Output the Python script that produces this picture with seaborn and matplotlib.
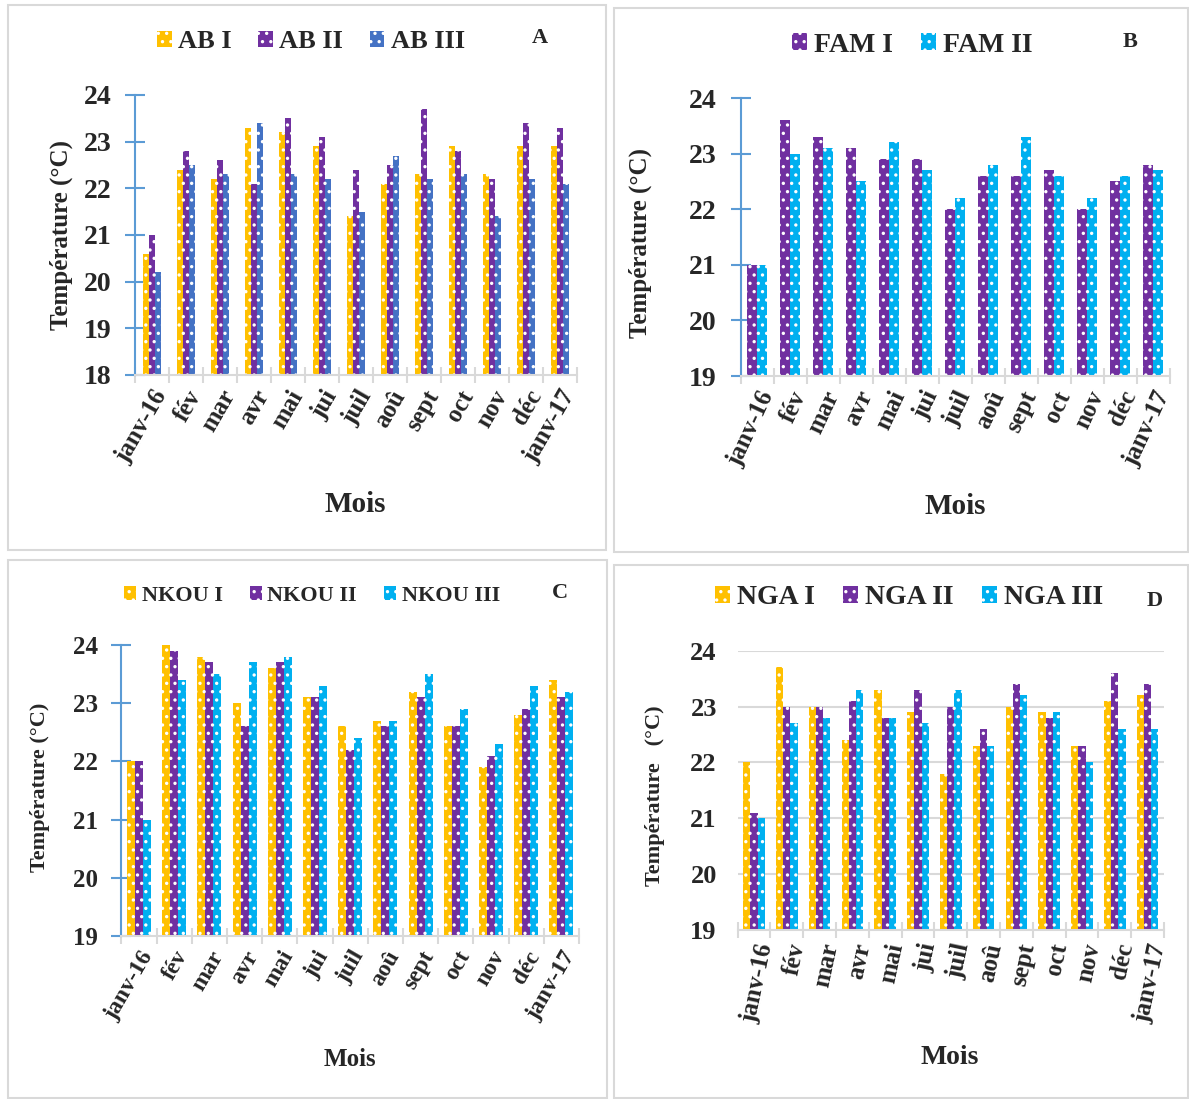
import numpy as np
import pandas as pd
import matplotlib
matplotlib.use("Agg")
import matplotlib.pyplot as plt
from matplotlib.patches import Rectangle, Patch
import seaborn as sns

sns.set_theme(style="white")
plt.rcParams["font.family"] = ["Liberation Serif", "DejaVu Serif"]
plt.rcParams["hatch.color"] = "white"
plt.rcParams["hatch.linewidth"] = 1.2

months = ["janv-16", "fév", "mar", "avr", "mai", "jui", "juil",
          "aoû", "sept", "oct", "nov", "déc", "janv-17"]

# A - AB stations
ab_labels = ["AB I", "AB II", "AB III"]
ab_1 = [20.6, 22.4, 22.2, 23.3, 23.2, 22.9, 21.4, 22.1, 22.3, 22.9, 22.3, 22.9, 22.9]
ab_2 = [21.0, 22.8, 22.6, 22.1, 23.5, 23.1, 22.4, 22.5, 23.7, 22.8, 22.2, 23.4, 23.3]
ab_3 = [20.2, 22.5, 22.3, 23.4, 22.3, 22.2, 21.5, 22.7, 22.2, 22.3, 21.4, 22.2, 22.1]

# B - FAM stations
fam_labels = ["FAM I", "FAM II"]
fam_1 = [21.0, 23.6, 23.3, 23.1, 22.9, 22.9, 22.0, 22.6, 22.6, 22.7, 22.0, 22.5, 22.8]
fam_2 = [21.0, 23.0, 23.1, 22.5, 23.2, 22.7, 22.2, 22.8, 23.3, 22.6, 22.2, 22.6, 22.7]

# C - NKOU stations
nkou_labels = ["NKOU I", "NKOU II", "NKOU III"]
nkou_1 = [22.0, 24.0, 23.8, 23.0, 23.6, 23.1, 22.6, 22.7, 23.2, 22.6, 21.9, 22.8, 23.4]
nkou_2 = [22.0, 23.9, 23.7, 22.6, 23.7, 23.1, 22.2, 22.6, 23.1, 22.6, 22.1, 22.9, 23.1]
nkou_3 = [21.0, 23.4, 23.5, 23.7, 23.8, 23.3, 22.4, 22.7, 23.5, 22.9, 22.3, 23.3, 23.2]

# D - NGA stations
nga_labels = ["NGA I", "NGA II", "NGA III"]
nga_1 = [22.0, 23.7, 23.0, 22.4, 23.3, 22.9, 21.8, 22.3, 23.0, 22.9, 22.3, 23.1, 23.2]
nga_2 = [21.1, 23.0, 23.0, 23.1, 22.8, 23.3, 23.0, 22.6, 23.4, 22.8, 22.3, 23.6, 23.4]
nga_3 = [21.0, 22.7, 22.8, 23.3, 22.8, 22.7, 23.3, 22.3, 23.2, 22.9, 22.0, 22.6, 22.6]

YELLOW = "#FFC000"
PURPLE = "#7030A0"
BLUE = "#4472C4"
CYAN = "#00B0F0"
AXIS_BLUE = "#5B9BD5"
GREY = "#D9D9D9"

W, H = 1189, 1099
fig = plt.figure(figsize=(W / 100, H / 100), dpi=100)


def px_axes(left, top, right, bottom):
    return fig.add_axes([left / W, 1 - bottom / H, (right - left) / W, (bottom - top) / H])


def frame(x0, y0, x1, y1):
    fig.patches.append(Rectangle((x0 / W, 1 - y1 / H), (x1 - x0) / W, (y1 - y0) / H,
                                 transform=fig.transFigure, fill=False,
                                 edgecolor=GREY, linewidth=1.5))


def panel(ax, labels, series, colors, ymin, width, ytick_size, xtick_size, rot,
          blue_axis=True):
    df = pd.DataFrame({
        "Mois": np.tile(months, len(labels)),
        "Site": np.repeat(labels, len(months)),
        "Temp": np.concatenate(series),
    })
    sns.barplot(data=df, x="Mois", y="Temp", hue="Site", hue_order=labels,
                order=months, palette=dict(zip(labels, colors)), saturation=1,
                width=width, gap=0, legend=False, ax=ax,
                hatch="..", edgecolor="white", linewidth=0)
    ax.set_ylim(ymin, 24)
    ax.set_xlim(-0.5, len(months) - 0.5)
    ax.set_yticks(np.arange(ymin, 25, 1))
    ax.set_yticklabels([str(v) for v in range(ymin, 25)],
                       fontsize=ytick_size, fontweight="bold")
    ax.set_xticks(range(len(months)))
    ax.set_xticklabels(months, rotation=rot, ha="right", rotation_mode="anchor",
                       fontsize=xtick_size, fontweight="bold")
    ax.set_xticks(np.arange(-0.5, len(months), 1), minor=True)
    ax.tick_params(axis="x", which="major", length=0, pad=8)
    ax.tick_params(axis="x", which="minor", bottom=True, length=11, width=1.5,
                   color=GREY, direction="inout")
    for s in ("top", "right"):
        ax.spines[s].set_visible(False)
    ax.spines["bottom"].set_color(GREY)
    ax.spines["bottom"].set_linewidth(1.5)
    if blue_axis:
        ax.spines["left"].set_color(AXIS_BLUE)
        ax.spines["left"].set_linewidth(1.5)
        ax.tick_params(axis="y", left=True, length=14, width=1.5, color=AXIS_BLUE,
                       direction="inout", pad=10)
    else:
        ax.spines["left"].set_visible(False)
        ax.tick_params(axis="y", length=0, pad=15)
        ax.yaxis.grid(True, color=GREY, linewidth=1.5)
        ax.set_axisbelow(True)
    ax.set_xlabel("")
    ax.set_ylabel("")


def legend(labels, colors, cx, cy, size, spacing):
    handles = [Patch(facecolor=c, edgecolor="white", hatch="..", linewidth=0) for c in colors]
    fig.legend(handles, labels, loc="center", bbox_to_anchor=(cx / W, 1 - cy / H),
               ncol=len(labels), frameon=False, handlelength=0.55, handleheight=0.55,
               handletextpad=0.25, columnspacing=spacing,
               prop={"family": "Liberation Serif", "weight": "bold", "size": size})


# Panel frames
frame(8, 5, 606, 550)
frame(614, 8, 1188, 552)
frame(8, 560, 607, 1098)
frame(614, 565, 1188, 1098)

# A
axA = px_axes(135, 95, 577, 375)
panel(axA, ab_labels, [ab_1, ab_2, ab_3], [YELLOW, PURPLE, BLUE], 18, 0.53, 20, 18, 60)
axA.set_ylabel("Température (°C)", fontsize=18, fontweight="bold")
axA.yaxis.set_label_coords(-0.14, 0.5)
legend(ab_labels, [YELLOW, PURPLE, BLUE], 311, 42, 19, 1.0)
fig.text(540 / W, 1 - 38 / H, "A", fontsize=16, fontweight="bold", ha="center", va="center")
fig.text(355 / W, 1 - 505 / H, "Mois", fontsize=21, fontweight="bold", ha="center", va="center")

# B
axB = px_axes(740.5, 98, 1169.5, 376)
panel(axB, fam_labels, [fam_1, fam_2], [PURPLE, CYAN], 19, 0.61, 20, 18, 65)
axB.set_ylabel("Température (°C)", fontsize=18, fontweight="bold")
axB.yaxis.set_label_coords(-0.206, 0.48)
legend(fam_labels, [PURPLE, CYAN], 912, 45, 20, 1.0)
fig.text(1130 / W, 1 - 42 / H, "B", fontsize=16, fontweight="bold", ha="center", va="center")
fig.text(955 / W, 1 - 507 / H, "Mois", fontsize=21, fontweight="bold", ha="center", va="center")

# C
axC = px_axes(121.4, 645, 579, 936)
panel(axC, nkou_labels, [nkou_1, nkou_2, nkou_3], [YELLOW, PURPLE, CYAN], 19, 0.68, 18, 17, 60)
axC.set_ylabel("Température (°C)", fontsize=16, fontweight="bold")
axC.yaxis.set_label_coords(-0.156, 0.51)
legend(nkou_labels, [YELLOW, PURPLE, CYAN], 312, 596, 16, 1.2)
fig.text(560 / W, 1 - 593 / H, "C", fontsize=16, fontweight="bold", ha="center", va="center")
fig.text(350 / W, 1 - 1060 / H, "Mois", fontsize=18, fontweight="bold", ha="center", va="center")

# D
axD = px_axes(737.6, 650.7, 1164, 930)
panel(axD, nga_labels, [nga_1, nga_2, nga_3], [YELLOW, PURPLE, CYAN], 19, 0.66, 19, 18, 78,
      blue_axis=False)
axD.set_ylabel("Température   (°C)", fontsize=16, fontweight="bold")
axD.yaxis.set_label_coords(-0.17, 0.48)
legend(nga_labels, [YELLOW, PURPLE, CYAN], 909, 598, 20, 1.0)
fig.text(1155 / W, 1 - 601 / H, "D", fontsize=16, fontweight="bold", ha="center", va="center")
fig.text(950 / W, 1 - 1057 / H, "Mois", fontsize=20, fontweight="bold", ha="center", va="center")

fig.savefig("out.png", dpi=100, facecolor="white")
